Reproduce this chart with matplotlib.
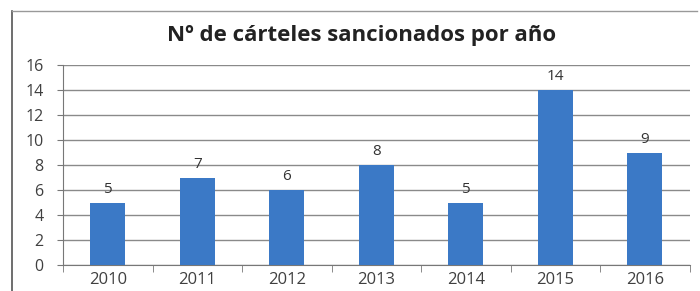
import matplotlib
matplotlib.use("Agg")
import matplotlib.pyplot as plt
from matplotlib.lines import Line2D
import numpy as np

years = ["2010", "2011", "2012", "2013", "2014", "2015", "2016"]
values = [5, 7, 6, 8, 5, 14, 9]
yticks = [0, 2, 4, 6, 8, 10, 12, 14, 16]
title = "Nº de cárteles sancionados por año"

plt.rcParams['font.family'] = ['Open Sans', 'DejaVu Sans']

fig = plt.figure(figsize=(7, 2.91), dpi=100)
ax = fig.add_axes([63/700, 1-265/291, (689.5-63)/700, (265-65)/291])

x = np.arange(len(years))
ax.bar(x, values, width=0.39, color="#3B79C6", zorder=3)
for xi, v in zip(x, values):
    ax.text(xi, v + 0.45, str(v), ha="center", va="bottom", fontsize=11, color="#333333")

ax.set_xlim(-0.5, len(years) - 0.5)
ax.set_ylim(0, 16)
ax.set_yticks(yticks)
ax.set_yticklabels([str(t) for t in yticks], fontsize=11.5, color="#404040")
ax.set_xticks(x)
ax.set_xticklabels(years, fontsize=12, color="#404040")
ax.tick_params(axis='x', length=0, pad=5)
ax.set_xticks(np.arange(-0.5, len(years), 1), minor=True)
ax.tick_params(axis='x', which='minor', length=5, color="#777777", direction='out')
ax.tick_params(axis='y', length=4, color="#777777", pad=10)
ax.grid(axis='y', color="#8a8a8a", linewidth=1.0, zorder=0)
for s in ["top", "right"]:
    ax.spines[s].set_visible(False)
ax.spines["left"].set_color("#777777")
ax.spines["bottom"].set_color("#777777")

fig.text(362/700, 1-35/291, title, ha="center", va="center", fontsize=16,
         fontweight="bold", color="#222222")

fig.add_artist(Line2D([12/700, 12/700], [0, 1-11/291], color="#555555", linewidth=1.2))
fig.add_artist(Line2D([12/700, 697/700], [1-11/291, 1-11/291], color="#999999", linewidth=1.0))

fig.savefig("out.png", dpi=100)
